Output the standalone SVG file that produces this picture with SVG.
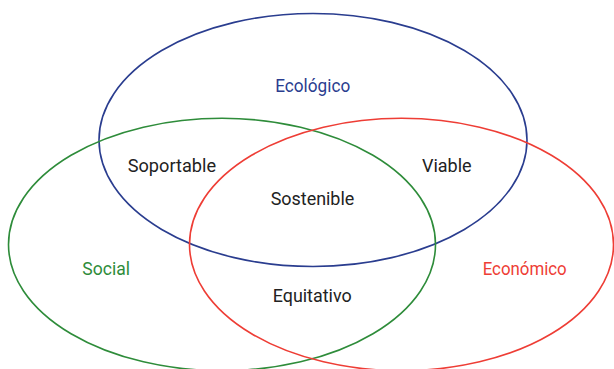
<svg xmlns="http://www.w3.org/2000/svg" width="614" height="369" viewBox="0 0 614 369">
<style>
.ring{fill:none;stroke-width:1.6}
.t{font-family:Roboto,"Liberation Sans",sans-serif;font-size:18px;text-anchor:middle}
.dark{fill:#222222}
</style>
<rect width="614" height="369" fill="#ffffff"/>
<g id="connectors"></g>
<g id="ecologico">
<ellipse class="ring" cx="313" cy="140" rx="214" ry="126.5" stroke="#2a3d8f"/>
<text class="t" x="312.7" y="92.3" fill="#2a3d8f" textLength="75" lengthAdjust="spacingAndGlyphs">Ecológico</text>
</g>
<g id="social">
<ellipse class="ring" cx="222" cy="244.5" rx="213.5" ry="126.2" stroke="#2e8c3a"/>
<text class="t" x="106.2" y="275" fill="#2e8c3a" textLength="47.7" lengthAdjust="spacingAndGlyphs">Social</text>
</g>
<g id="economico">
<ellipse class="ring" cx="401.5" cy="244.5" rx="212" ry="126.2" stroke="#ee3d35"/>
<text class="t" x="524.7" y="275" fill="#ee3d35" textLength="84" lengthAdjust="spacingAndGlyphs">Económico</text>
</g>
<g id="soportable"><text class="t dark" x="171.9" y="172.3" textLength="88.3" lengthAdjust="spacingAndGlyphs">Soportable</text></g>
<g id="viable"><text class="t dark" x="446.8" y="172.3" textLength="49.7" lengthAdjust="spacingAndGlyphs">Viable</text></g>
<g id="sostenible"><text class="t dark" x="312.5" y="205" textLength="83.6" lengthAdjust="spacingAndGlyphs">Sostenible</text></g>
<g id="equitativo"><text class="t dark" x="312.2" y="302.3" textLength="79" lengthAdjust="spacingAndGlyphs">Equitativo</text></g>
</svg>
